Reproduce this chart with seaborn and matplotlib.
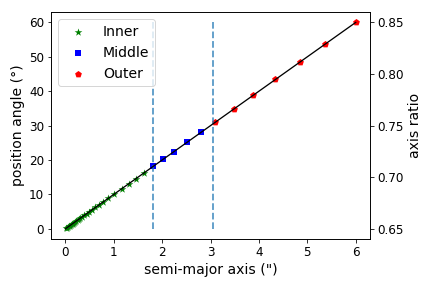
import matplotlib
matplotlib.use('Agg')
import matplotlib.pyplot as plt
import seaborn as sns

# semi-major axis (") and position angle (deg) of each isophote, per region
inner_sma = [0.01, 0.03, 0.05, 0.07, 0.09, 0.11, 0.13, 0.15, 0.17, 0.19, 0.22, 0.25,
             0.28, 0.31, 0.35, 0.39, 0.44, 0.49, 0.55, 0.62, 0.70, 0.78, 0.88, 1.00,
             1.16, 1.31, 1.46, 1.63]
inner_pa = [0.1, 0.3, 0.5, 0.7, 0.9, 1.1, 1.3, 1.5, 1.7, 1.9, 2.2, 2.5,
            2.8, 3.1, 3.5, 3.9, 4.4, 4.9, 5.5, 6.2, 7.0, 7.8, 8.8, 10.0,
            11.6, 13.1, 14.6, 16.3]
middle_sma = [1.81, 2.02, 2.24, 2.52, 2.80]
middle_pa = [18.1, 20.2, 22.4, 25.2, 28.0]
outer_sma = [3.10, 3.48, 3.88, 4.34, 4.84, 5.37, 6.00]
outer_pa = [31.0, 34.8, 38.8, 43.4, 48.4, 53.7, 60.0]

# straight-line model shown against the axis ratio scale
fit_sma = [0.0, 6.0]
fit_q = [0.65, 0.85]

# region boundaries
bounds = [1.8, 3.05]

fig, ax = plt.subplots(figsize=(6, 4), dpi=72)
fig.subplots_adjust(left=0.118, right=0.857, top=0.958, bottom=0.170)

sns.scatterplot(x=inner_sma, y=inner_pa, ax=ax, marker='*', color='green',
                s=65, linewidth=0, label='Inner')
sns.scatterplot(x=middle_sma, y=middle_pa, ax=ax, marker='s', color='blue',
                s=45, linewidth=0, label='Middle')
sns.scatterplot(x=outer_sma, y=outer_pa, ax=ax, marker='p', color='red',
                s=50, linewidth=0, label='Outer')
ax.vlines(bounds, 0, 60, colors='tab:blue', linestyles='--', linewidth=1.8, alpha=0.75)

ax.set_xlabel('semi-major axis (")', fontsize=14)
ax.set_ylabel('position angle (°)', fontsize=14)
ax.tick_params(labelsize=12)
ax.legend(loc='upper left', fontsize=14)

ax2 = ax.twinx()
sns.lineplot(x=fit_sma, y=fit_q, ax=ax2, color='black', linewidth=1.3)
ax2.set_ylabel('axis ratio', fontsize=14)
ax2.tick_params(labelsize=12)
ax2.set_yticks([0.65, 0.70, 0.75, 0.80, 0.85])

fig.savefig('out.png')
